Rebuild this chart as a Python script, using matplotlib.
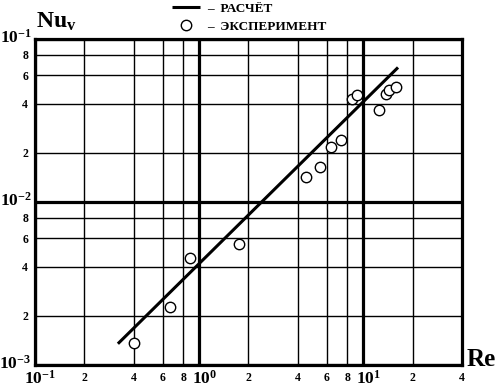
import numpy as np
import matplotlib
matplotlib.use('Agg')
import matplotlib.pyplot as plt
import matplotlib.transforms as mtransforms
from matplotlib.ticker import FixedLocator, FixedFormatter

#%% data
re_calc = [0.32, 16.3]
nu_calc = [0.00135, 0.0669]

re_exp = [0.40, 0.665, 0.883, 1.75, 4.48, 5.46, 6.4, 7.3, 8.55, 9.15, 12.5, 13.8, 14.4, 15.9]
nu_exp = [0.00137, 0.00226, 0.00455, 0.00551, 0.0143, 0.0163, 0.0217, 0.0241,
          0.0426, 0.0455, 0.0368, 0.0461, 0.0489, 0.0508]

x_major = [0.1, 1, 10]
x_major_lab = [r'$10^{-1}$', r'$10^{0}$', r'$10^{1}$']
x_minor = [0.2, 0.4, 0.6, 0.8, 2, 4, 6, 8, 20, 40]
x_minor_lab = ['2', '4', '6', '8', '2', '4', '6', '8', '2', '4']

y_major = [0.001, 0.01, 0.1]
y_major_lab = [r'$10^{-3}$', r'$10^{-2}$', r'$10^{-1}$']
y_minor = [0.002, 0.004, 0.006, 0.008, 0.02, 0.04, 0.06, 0.08]
y_minor_lab = ['2', '4', '6', '8', '2', '4', '6', '8']

#%% style
plt.rcParams['font.family'] = ['Liberation Serif', 'DejaVu Serif']
plt.rcParams['font.weight'] = 'bold'
plt.rcParams['mathtext.fontset'] = 'custom'
plt.rcParams['mathtext.rm'] = 'Liberation Serif:bold'
plt.rcParams['mathtext.it'] = 'Liberation Serif:bold'
plt.rcParams['mathtext.bf'] = 'Liberation Serif:bold'

fig = plt.figure(figsize=(4.96, 3.91), dpi=100)
ax = fig.add_axes([35/496, 26/391, 427/496, 326/391])
ax.set_xscale('log')
ax.set_yscale('log')
ax.set_xlim(0.1, 40)
ax.set_ylim(0.001, 0.1)

ax.xaxis.set_major_locator(FixedLocator(x_major))
ax.xaxis.set_major_formatter(FixedFormatter(x_major_lab))
ax.xaxis.set_minor_locator(FixedLocator(x_minor))
ax.xaxis.set_minor_formatter(FixedFormatter(x_minor_lab))
ax.yaxis.set_major_locator(FixedLocator(y_major))
ax.yaxis.set_major_formatter(FixedFormatter(y_major_lab))
ax.yaxis.set_minor_locator(FixedLocator(y_minor))
ax.yaxis.set_minor_formatter(FixedFormatter(y_minor_lab))

ax.tick_params(which='both', length=0)
ax.tick_params(axis='x', which='major', labelsize=12.5, pad=3.5)
ax.tick_params(axis='x', which='minor', labelsize=8.5, pad=5)
ax.tick_params(axis='y', which='major', labelsize=12.5, pad=2.5)
ax.tick_params(axis='y', which='minor', labelsize=8.5, pad=5)

# the "10" of each power sits centred on its tick, so nudge the labels
xoff = mtransforms.ScaledTranslation(5/100, 0, fig.dpi_scale_trans)
for lab in ax.xaxis.get_majorticklabels():
    lab.set_transform(lab.get_transform() + xoff)
yoff = mtransforms.ScaledTranslation(0, 3/100, fig.dpi_scale_trans)
for lab in ax.yaxis.get_majorticklabels():
    lab.set_transform(lab.get_transform() + yoff)

ax.grid(which='major', color='black', lw=2.3)
ax.grid(which='minor', color='black', lw=1.0)
ax.set_axisbelow(True)
for s in ax.spines.values():
    s.set_linewidth(2.3)

ax.plot(re_calc, nu_calc, color='black', lw=2.2, solid_capstyle='butt',
        label='–  РАСЧЁТ', zorder=3)
ax.plot(re_exp, nu_exp, 'o', ms=7.5, mfc='white', mec='black', mew=1.0,
        label='–  ЭКСПЕРИМЕНТ', zorder=4)

fig.legend(loc='upper left', bbox_to_anchor=(164/496, 1.013), frameon=False,
           fontsize=9.5, handlelength=2.1, handletextpad=0.55, labelspacing=0.4,
           borderpad=0.1, numpoints=1)

fig.text(36/496, 1 - 28/391, r'Nu$_{\mathrm{v}}$', fontsize=17, fontweight='bold',
         ha='left', va='baseline')
fig.text(467/496, 1 - 366/391, 'Re', fontsize=18, fontweight='bold',
         ha='left', va='baseline')

fig.savefig('out.png', dpi=100)
